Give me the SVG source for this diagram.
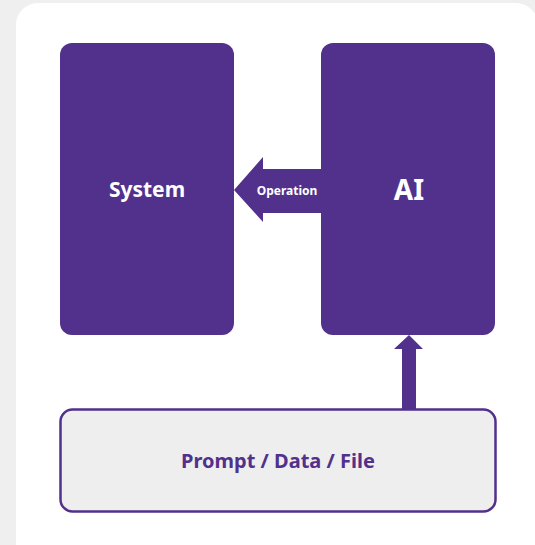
<svg xmlns="http://www.w3.org/2000/svg" width="535" height="545" viewBox="0 0 535 545">
  <style>
    .block { fill: #52318c; }
    .label { font-family: "Noto Sans", "Liberation Sans", sans-serif; font-weight: bold; text-anchor: middle; }
    .white { fill: #ffffff; }
    .purple { fill: #52318c; }
  </style>
  <!-- page background and card -->
  <rect x="0" y="0" width="535" height="545" fill="#efefef"/>
  <rect x="16" y="3" width="522" height="590" rx="22" fill="#ffffff"/>

  <g id="connectors">
    <!-- Operation: AI -> System -->
    <polygon class="block" points="321,169 263,169 263,157 234,190 263,222 263,213 321,213"/>
    <!-- input: Prompt/Data/File -> AI -->
    <polygon class="block" points="402,410 402,349 394,349 409,335 423,349 416,349 416,410"/>
    <text class="label white" x="287" y="195" font-size="12">Operation</text>
  </g>

  <g id="system">
    <rect class="block" x="60" y="43" width="174" height="292" rx="12"/>
    <text class="label white" x="147" y="197" font-size="21">System</text>
  </g>

  <g id="ai">
    <rect class="block" x="321" y="43" width="174" height="292" rx="12"/>
    <text class="label white" x="409" y="200" font-size="28">AI</text>
  </g>

  <g id="input">
    <rect x="60.5" y="409.5" width="435" height="102" rx="12" fill="#eeeeee" stroke="#52318c" stroke-width="2.5"/>
    <text class="label purple" x="278" y="468" font-size="20">Prompt / Data / File</text>
  </g>
</svg>
